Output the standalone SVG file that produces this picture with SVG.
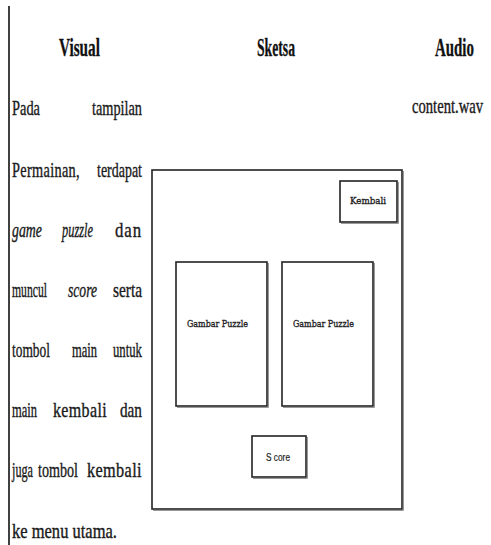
<svg xmlns="http://www.w3.org/2000/svg" width="491" height="545" viewBox="0 0 491 545">
  <style>
    .hd { font-family: "Liberation Serif", "Times New Roman", serif; font-weight: bold; font-size: 25px; fill: #111; stroke: #111; stroke-width: 0.3; }
    .tx { font-family: "Liberation Serif", "Times New Roman", serif; font-size: 22px; fill: #1a1a1a; stroke: #1a1a1a; stroke-width: 0.4; }
    .it { font-style: italic; }
    .box { fill: #fff; stroke: #222; stroke-width: 1.6; }
    .shadow { fill: none; stroke: #999; stroke-width: 1; }
    .lbl { font-family: "DejaVu Serif", "Liberation Serif", serif; font-size: 10px; fill: #222; stroke: #222; stroke-width: 0.35; }
    .lbs { font-family: "Liberation Sans", Arial, sans-serif; font-size: 11px; fill: #222; stroke: #222; stroke-width: 0.2; }
  </style>

  <rect width="491" height="545" fill="#fff"/>

  <!-- left border of the table -->
  <line x1="9" y1="6" x2="9" y2="545" stroke="#111" stroke-width="1.6"/>

  <!-- column headings (condensed serif) -->
  <g id="headings" transform="scale(0.62,1)">
    <text class="hd" x="95.16" y="56" textLength="66.13" lengthAdjust="spacingAndGlyphs">Visual</text>
    <text class="hd" x="414.52" y="56" textLength="61.29" lengthAdjust="spacingAndGlyphs">Sketsa</text>
    <text class="hd" x="701.61" y="56" textLength="62.9" lengthAdjust="spacingAndGlyphs">Audio</text>
  </g>

  <!-- visual description, justified word by word (condensed serif) -->
  <g id="visual-text" class="tx" transform="scale(0.62,1)">
    <text x="19.35" y="115" textLength="45.16" lengthAdjust="spacingAndGlyphs">Pada</text>
    <text x="148.39" y="115" textLength="80.65" lengthAdjust="spacingAndGlyphs">tampilan</text>

    <text x="19.35" y="177" textLength="109.68" lengthAdjust="spacingAndGlyphs" letter-spacing="0.5">Permainan,</text>
    <text x="156.45" y="177" textLength="72.58" lengthAdjust="spacingAndGlyphs">terdapat</text>

    <text class="it" x="19.35" y="237" textLength="48.39" lengthAdjust="spacingAndGlyphs">game</text>
    <text class="it" x="100" y="237" textLength="50" lengthAdjust="spacingAndGlyphs">puzzle</text>
    <text x="185.48" y="237" textLength="43.55" lengthAdjust="spacingAndGlyphs" letter-spacing="1.2">dan</text>

    <text x="19.35" y="297" textLength="56.45" lengthAdjust="spacingAndGlyphs">muncul</text>
    <text class="it" x="109.68" y="297" textLength="46.77" lengthAdjust="spacingAndGlyphs">score</text>
    <text x="182.26" y="297" textLength="46.77" lengthAdjust="spacingAndGlyphs">serta</text>

    <text x="19.35" y="357" textLength="61.29" lengthAdjust="spacingAndGlyphs">tombol</text>
    <text x="116.13" y="357" textLength="40.32" lengthAdjust="spacingAndGlyphs">main</text>
    <text x="182.26" y="357" textLength="46.77" lengthAdjust="spacingAndGlyphs">untuk</text>

    <text x="19.35" y="417" textLength="40.32" lengthAdjust="spacingAndGlyphs">main</text>
    <text x="85.48" y="417" textLength="87.1" lengthAdjust="spacingAndGlyphs" letter-spacing="0.5">kembali</text>
    <text x="193.55" y="417" textLength="35.48" lengthAdjust="spacingAndGlyphs">dan</text>

    <text x="19.35" y="477" textLength="33.87" lengthAdjust="spacingAndGlyphs">juga</text>
    <text x="61.29" y="477" textLength="64.52" lengthAdjust="spacingAndGlyphs">tombol</text>
    <text x="140.32" y="477" textLength="88.71" lengthAdjust="spacingAndGlyphs" letter-spacing="0.5">kembali</text>

    <text x="19.35" y="538" textLength="169.35" lengthAdjust="spacingAndGlyphs">ke menu utama.</text>
  </g>

  <!-- audio file -->
  <g id="audio-text" class="tx" transform="scale(0.62,1)">
    <text x="664.52" y="113" textLength="114.52" lengthAdjust="spacingAndGlyphs">content.wav</text>
  </g>

  <!-- sketch of the game screen -->
  <g id="screen">
    <polyline class="shadow" points="403.5,171 403.5,510.5 153,510.5"/>
    <rect class="box" x="152" y="170" width="250" height="339"/>
  </g>
  <g id="btn-kembali">
    <polyline class="shadow" points="398.5,182 398.5,223.5 341,223.5"/>
    <rect class="box" x="340" y="181" width="57" height="41"/>
    <text class="lbl" x="350" y="204" textLength="36" lengthAdjust="spacingAndGlyphs">Kembali</text>
  </g>
  <g id="puzzle-left">
    <polyline class="shadow" points="268.5,263 268.5,407.5 177,407.5"/>
    <rect class="box" x="176" y="262" width="91" height="144"/>
    <text class="lbl" x="187" y="327" textLength="61" lengthAdjust="spacingAndGlyphs">Gambar Puzzle</text>
  </g>
  <g id="puzzle-right">
    <polyline class="shadow" points="374.5,263 374.5,407.5 283,407.5"/>
    <rect class="box" x="282" y="262" width="91" height="144"/>
    <text class="lbl" x="293" y="327" textLength="61" lengthAdjust="spacingAndGlyphs">Gambar Puzzle</text>
  </g>
  <g id="score">
    <polyline class="shadow" points="307.5,437 307.5,478.5 253,478.5"/>
    <rect class="box" x="252" y="436" width="54" height="41"/>
    <text class="lbs" x="266" y="461" textLength="24" lengthAdjust="spacingAndGlyphs">S core</text>
  </g>
</svg>
